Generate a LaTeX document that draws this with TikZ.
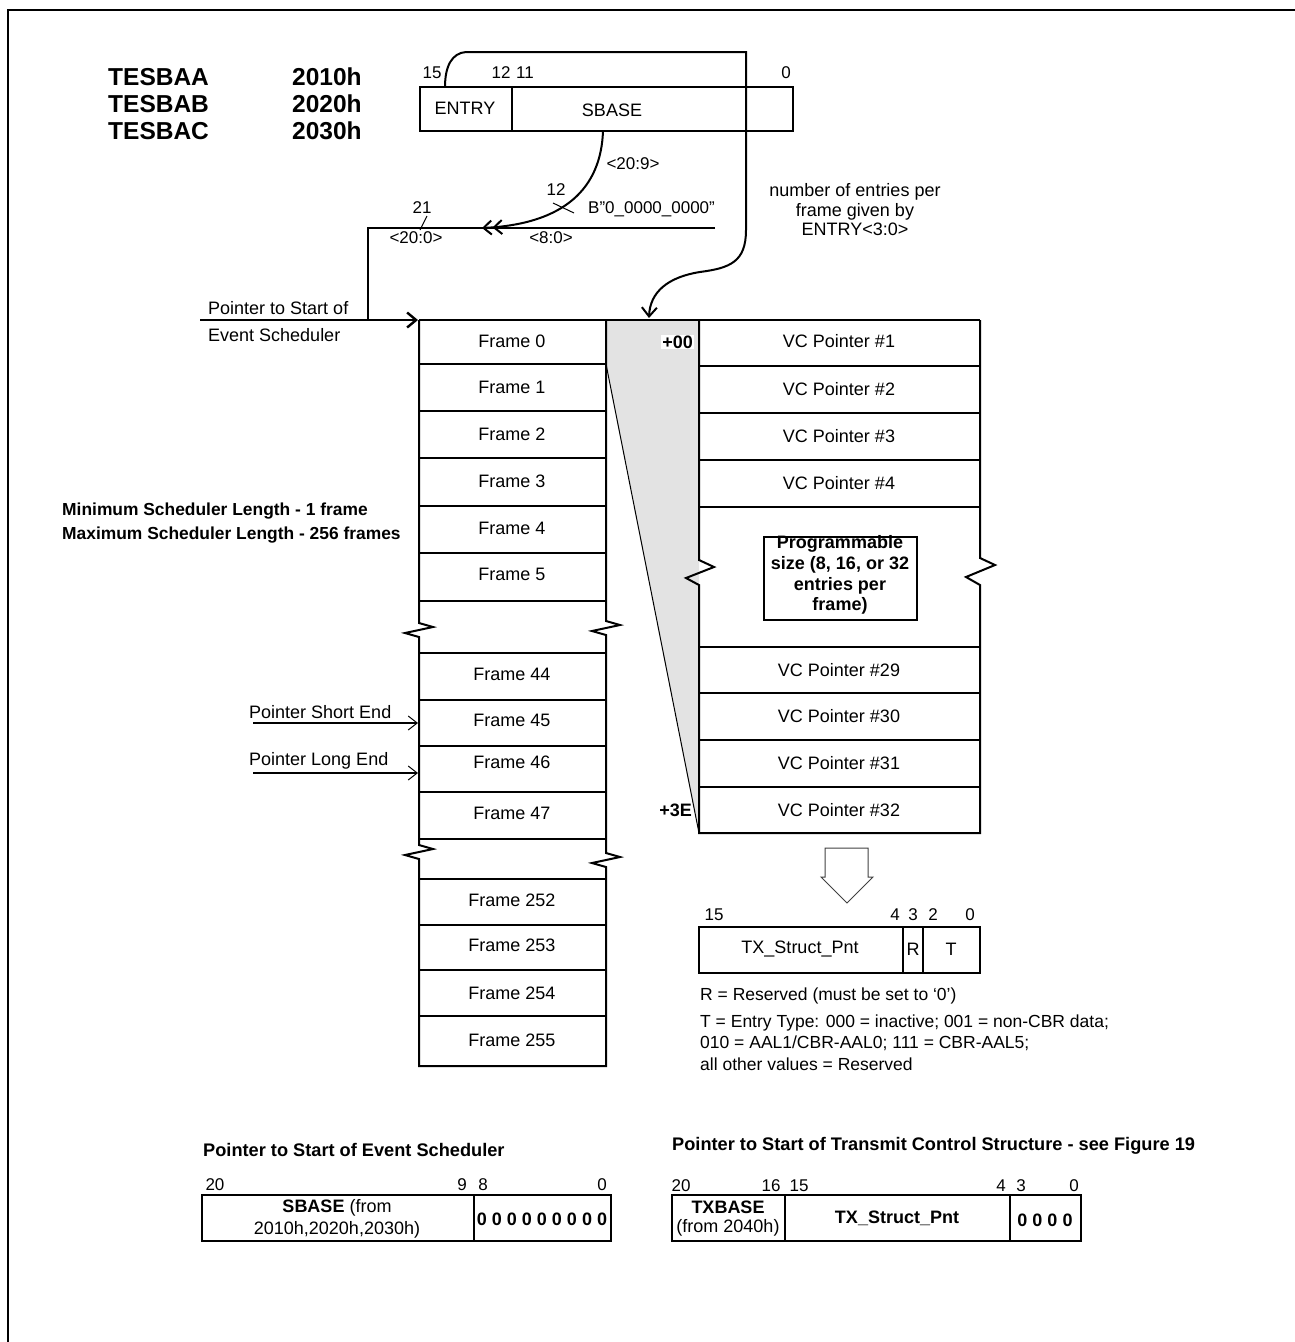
\documentclass[tikz,border=0pt]{standalone}
\usepackage{fontspec}
\setmainfont{Liberation Sans}
\usetikzlibrary{arrows.meta}
\begin{document}
\begin{tikzpicture}[x=1pt,y=-1pt,line join=miter,
  txt/.style={font=\fontsize{18}{21}\selectfont, inner sep=0pt},
  btxt/.style={font=\fontsize{18}{21}\selectfont\bfseries, inner sep=0pt},
  bit/.style={font=\fontsize{17}{20}\selectfont, inner sep=0pt},
  note/.style={font=\fontsize{17.5}{20}\selectfont, inner sep=0pt, anchor=west},
  hdr/.style={font=\fontsize{24.5}{28}\selectfont\bfseries, inner sep=0pt, anchor=west},
  ttl/.style={font=\fontsize{18.2}{21}\selectfont\bfseries, inner sep=0pt, anchor=west},
  bx/.style={line width=2pt},
  fineln/.style={line width=1pt},
  barb/.style={-{Straight Barb[length=9pt,width=15pt]}},
  dbarb/.style={-{Straight Barb[length=8pt,width=14pt] Straight Barb[length=8pt,width=14pt]}},
]
\useasboundingbox (0,0) rectangle (1295,1342);
% page frame (top and left only)
\draw[line width=2pt] (8,1342) -- (8,10) -- (1295,10);

% header
\node[hdr] (tesbaa) at (108,77) {TESBAA};
\node[hdr] (tesbab) at (108,104) {TESBAB};
\node[hdr] (tesbac) at (108,131) {TESBAC};
\node[hdr] (a2010) at (292,77) {2010h};
\node[hdr] (a2020) at (292,104) {2020h};
\node[hdr] (a2030) at (292,131) {2030h};

% register
\draw[bx] (420,87) rectangle (793,131);
\draw[bx] (512,87) -- (512,131);
\node[txt] (entry) at (465,108) {ENTRY};
\node[txt] (sbase) at (612,110) {SBASE};
\node[bit] (b15) at (432,73) {15};
\node[bit] (b12) at (501,73) {12};
\node[bit] (b11) at (525,73) {11};
\node[bit] (b0) at (786,73) {0};

% curve from ENTRY to scheduler entries
\coordinate (entrytop) at (445,87);
\coordinate (vcstart) at (649,318);
\draw[bx,barb] (entrytop) .. controls (445,66) and (452,53) .. (466,52) -- (746,52) -- (746,230)
  .. controls (746,262) and (730,268) .. (700,272) .. controls (668,277) and (650,292) .. (vcstart);

% SBASE to pointer
\coordinate (sbasebot) at (603,131);
\coordinate (merge) at (482,228);
\draw[bx,dbarb] (sbasebot) .. controls (601,188) and (565,224) .. (merge);
\node[bit] (l209) at (633,164) {<20:9>};
\draw[fineln] (553,203) -- (574,213);
\node[bit] (l12) at (556,190) {12};
\node[bit,anchor=west] (bzero) at (588,209) {B”0\_0000\_0000”};
\coordinate (zeroend) at (715,228);
\coordinate (bend1) at (368,228);
\coordinate (bend2) at (368,320);
\coordinate (pstart) at (200,320);
\coordinate (f0left) at (418,320);
\draw[line width=2.6pt] (zeroend) -- (bend1) -- (bend2);
\draw[line width=2.4pt,barb] (pstart) -- (f0left);
\node[bit] (l21) at (422,208) {21};
\draw[fineln] (427,216) -- (420,230);
\node[bit] (l200) at (416,238) {<20:0>};
\node[bit] (l80) at (551,238) {<8:0>};

\node[txt,align=center,font=\fontsize{18}{19.5}\selectfont] (nument) at (855,210) {number of entries per\\frame given by\\ENTRY<3:0>};

\node[txt,anchor=west] (pse1) at (208,308) {Pointer to Start of};
\node[txt,anchor=west] (pse2) at (208,335) {Event Scheduler};

% gray wedge
\fill[black!11] (606,320) -- (699,320) -- (699,833) -- (606,364) -- cycle;
\draw[fineln] (606,364) -- (699,833);

% frame column
\draw[bx] (419,320) -- (419,623) -- (433,627) -- (405,633) -- (419,637) -- (419,845) -- (433,849) -- (405,855) -- (419,859) -- (419,1066)
  -- (606,1066) -- (606,867) -- (592,863) -- (620,857) -- (606,853) -- (606,635) -- (592,631) -- (620,625) -- (606,621) -- (606,320);
\draw[bx] (419,320) -- (980,320);
\foreach \yy in {364,411,458,506,553,601,653,700,746,792,839,879,925,970,1016}
  \draw[bx] (419,\yy) -- (606,\yy);
\foreach \t/\yy in {0/341,1/387,2/434,3/481,4/528,5/574,44/674,45/720,46/762,47/813,252/900,253/945,254/993,255/1040}
  \node[txt] (fr\t) at (512,\yy) {Frame \t};

% VC column
\draw[bx] (699,320) -- (699,560) -- (714,567) -- (686,578) -- (699,585) -- (699,833) -- (980,833)
  -- (980,585) -- (966,577) -- (995,565) -- (980,558) -- (980,320);
\foreach \yy in {366,413,460,507,647,693,740,787}
  \draw[bx] (699,\yy) -- (980,\yy);
\foreach \t/\yy in {1/341,2/389,3/436,4/483,29/670,30/716,31/763,32/810}
  \node[txt] (vc\t) at (839,\yy) {VC Pointer \#\t};
\draw[bx] (764,537) rectangle (917,620);
\node[btxt,align=center,font=\fontsize{18}{20.7}\selectfont\bfseries] (prog) at (840,575) {Programmable\\size (8, 16, or 32\\entries per\\frame)};
\node[btxt,fill=white,inner sep=1pt,anchor=east] (p00) at (694,342) {+00};
\node[btxt,anchor=east] (p3e) at (692,810) {+3E};

\node[ttl,font=\fontsize{17.4}{20}\selectfont\bfseries] (minlen) at (62,511) {Minimum Scheduler Length - 1 frame};
\node[ttl,font=\fontsize{17.4}{20}\selectfont\bfseries] (maxlen) at (62,535) {Maximum Scheduler Length - 256 frames};

% pointer short / long end
\node[txt,anchor=west] (pshort) at (249,712) {Pointer Short End};
\node[txt,anchor=west] (plong) at (249,761) {Pointer Long End};
\coordinate (ps0) at (253,723); \coordinate (ps1) at (418,723);
\coordinate (pl0) at (253,773); \coordinate (pl1) at (418,773);
\draw[line width=1.6pt,-{Straight Barb[length=9pt,width=14pt,line width=1pt]}] (ps0) -- (ps1);
\draw[line width=1.6pt,-{Straight Barb[length=9pt,width=14pt,line width=1pt]}] (pl0) -- (pl1);

% hollow arrow
\draw[line width=1pt,black!75] (825,877) -- (825,848) -- (868,848) -- (868,877) -- (873,877) -- (847,903) -- (821,877) -- cycle;

% TX entry register
\draw[bx] (699,927) rectangle (980,973);
\draw[bx] (903,927) -- (903,973);
\draw[bx] (923,927) -- (923,973);
\node[txt] (txs) at (800,949) {TX\_Struct\_Pnt};
\node[txt] (rr) at (913,949) {R};
\node[txt] (tt) at (951,949) {T};
\node[bit] (t15) at (714,915) {15};
\node[bit] (t4) at (895,915) {4};
\node[bit] (t3) at (913,915) {3};
\node[bit] (t2) at (933,915) {2};
\node[bit] (t0) at (970,915) {0};
\node[note] (n1) at (700,996) {R = Reserved (must be set to ‘0’)};
\node[note] (n2) at (700,1023) {T = Entry Type: 000 = inactive; 001 = non-CBR data;};
\node[note] (n3) at (700,1043) {010 = AAL1/CBR-AAL0; 111 = CBR-AAL5;};
\node[note] (n4) at (700,1064) {all other values = Reserved};

% bottom left table
\node[ttl] (tt1) at (203,1150) {Pointer to Start of Event Scheduler};
\node[bit] (s20) at (215,1185) {20};
\node[bit] (s9) at (462,1185) {9};
\node[bit] (s8) at (483,1185) {8};
\node[bit] (s0) at (602,1185) {0};
\draw[bx] (202,1195) rectangle (611,1241);
\draw[bx] (474,1195) -- (474,1241);
\node[txt] (sb1) at (337,1208) {\textbf{SBASE} (from};
\node[txt] (sb2) at (337,1230) {2010h,2020h,2030h)};
\node[btxt] (zz9) at (542,1219) {0 0 0 0 0 0 0 0 0};

% bottom right table
\node[ttl] (tt2) at (672,1146) {Pointer to Start of Transmit Control Structure - see Figure 19};
\node[bit] (r20) at (681,1186) {20};
\node[bit] (r16) at (771,1186) {16};
\node[bit] (r15) at (799,1186) {15};
\node[bit] (r4) at (1001,1186) {4};
\node[bit] (r3) at (1021,1186) {3};
\node[bit] (r0) at (1074,1186) {0};
\draw[bx] (672,1195) rectangle (1081,1241);
\draw[bx] (785,1195) -- (785,1241);
\draw[bx] (1010,1195) -- (1010,1241);
\node[btxt] (txb1) at (728,1207) {TXBASE};
\node[txt] (txb2) at (728,1228) {(from 2040h)};
\node[btxt] (txsp) at (897,1218) {TX\_Struct\_Pnt};
\node[btxt] (zz4) at (1045,1220) {0 0 0 0};
\end{tikzpicture}
\end{document}
